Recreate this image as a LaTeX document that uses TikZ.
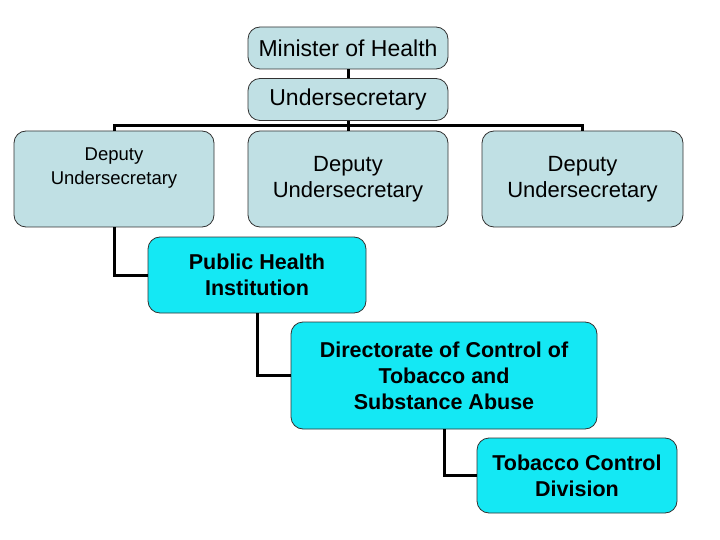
\documentclass[tikz,border=0pt]{standalone}
\usepackage{fontspec}
\setmainfont{Liberation Sans}
\definecolor{paleblue}{RGB}{192,224,228}
\definecolor{cyanbox}{RGB}{20,232,244}
\definecolor{edgegray}{RGB}{50,50,50}
\begin{document}
\begin{tikzpicture}[x=1pt,y=-1pt,
  box/.style={draw=edgegray,line width=0.8pt,rounded corners=12pt,align=center,inner sep=0pt},
  palebox/.style={box,fill=paleblue},
  cyanfill/.style={box,fill=cyanbox,font=\fontsize{21.5}{26}\selectfont\bfseries},
  conn/.style={line width=3pt,black,line join=miter}]
\useasboundingbox[fill=white] (0,0) rectangle (720,540);
\node[palebox,minimum width=200,minimum height=42,font=\fontsize{23}{27}\selectfont] (min) at (348,48) {Minister of Health};
\node[palebox,minimum width=200,minimum height=42,font=\fontsize{23}{27}\selectfont] (und) at (348,99.5) {Undersecretary};
\node[palebox,minimum width=200,minimum height=96,
  label={[name=d1t,align=center,yshift=11pt,font=\fontsize{18.5}{24}\selectfont]center:Deputy\\Undersecretary}] (d1) at (114,179) {};
\node[palebox,minimum width=200,minimum height=96,font=\fontsize{22}{26}\selectfont] (d2) at (348,179) {Deputy\\Undersecretary};
\node[palebox,minimum width=201,minimum height=96,font=\fontsize{22}{26}\selectfont] (d3) at (582.5,179) {Deputy\\Undersecretary};
\node[cyanfill,minimum width=218,minimum height=76] (ph) at (257,275) {Public Health\\Institution};
\node[cyanfill,minimum width=306,minimum height=107] (dir) at (444,375.5) {Directorate of Control of\\Tobacco and\\Substance Abuse};
\node[cyanfill,minimum width=200,minimum height=75] (tcd) at (577,475.5) {Tobacco Control\\Division};
\coordinate (bar) at (348,126);
\draw[conn] (min.south) -- (und.north);
\draw[conn] (und.south) -- (bar);
\draw[conn] (d1.north) |- (bar) -| (d3.north);
\draw[conn] (bar) -- (d2.north);
\draw[conn] (d1.south) |- (ph.west);
\draw[conn] (ph.south) |- (dir.west);
\draw[conn] (dir.south) |- (tcd.west);
\end{tikzpicture}
\end{document}
